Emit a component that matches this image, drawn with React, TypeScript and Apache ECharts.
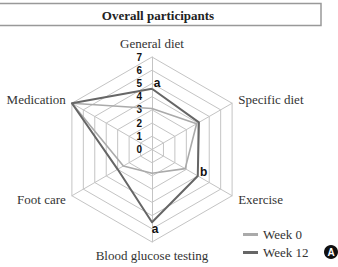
import React, { useEffect, useRef } from "react";
import * as echarts from "echarts";

// Categories in clockwise visual order starting from the top
const categories = ["General diet", "Specific diet", "Exercise", "Blood glucose testing", "Foot care", "Medication"];
const week0 = [3.1, 3.9, 2.9, 1.8, 2.5, 7.0];
const week12 = [4.6, 4.1, 4.0, 5.5, 3.0, 7.0];
const tickLabels = ["0", "1", "2", "3", "4", "5", "6", "7"];
const annotations = ["a", "", "b", "a", "", ""];
const seriesNames = ["Week 0", "Week 12"];
const title = "Overall participants";
const axisMax = 7;

// ECharts radar goes counter-clockwise; reorder to get clockwise layout
const ccw = <T,>(arr: T[]): T[] => [arr[0], ...arr.slice(1).reverse()];

const annoOffsets: Record<number, [number, number]> = {
  0: [5, -6],
  2: [6, -4],
  3: [3, 7],
};

export default function App() {
  const ref = useRef<HTMLDivElement>(null);
  useEffect(() => {
    if (!ref.current) return;
    const chart = echarts.init(ref.current, undefined, { renderer: "svg" });
    const cats = ccw(categories);
    const w0 = ccw(week0);
    const w12 = ccw(week12);
    const annos = ccw(annotations);
    const indicator = cats.map((name, i) => ({
      name,
      min: 0,
      max: axisMax,
      ...(i === 0
        ? {
            axisLabel: {
              show: true,
              fontSize: 10,
              fontWeight: "bold",
              fontFamily: "Liberation Sans, Arial, sans-serif",
              color: "#111",
              margin: 10,
              formatter: (v: number) => tickLabels[Math.round(v)] ?? "",
            },
          }
        : {}),
    }));

    const annoSeries = annos
      .map((letter, dim) => ({ letter, dim }))
      .filter((a) => a.letter)
      .map((a) => {
        const origIdx = categories.indexOf(cats[a.dim]);
        return {
          type: "radar",
          name: "anno" + a.dim,
          silent: true,
          symbol: "circle",
          symbolSize: 0.1,
          lineStyle: { opacity: 0, width: 0 },
          itemStyle: { opacity: 1, color: "transparent" },
          z: 10,
          data: [
            {
              value: w12,
              label: {
                show: true,
                position: "inside",
                offset: annoOffsets[origIdx] || [5, 0],
                fontSize: 12,
                fontWeight: "bold",
                fontFamily: "Liberation Sans, Arial, sans-serif",
                color: "#111",
                formatter: (p: any) => (w12.indexOf(p.value) === a.dim ? a.letter : ""),
              },
            },
          ],
        };
      });

    chart.setOption({
      animation: false,
      backgroundColor: "#fff",
      legend: {
        data: seriesNames,
        orient: "vertical",
        left: 238,
        top: 223,
        itemWidth: 15,
        itemHeight: 3,
        itemGap: 5,
        icon: "rect",
        textStyle: { fontFamily: "Liberation Serif, serif", fontSize: 13, color: "#333" },
      },
      radar: {
        center: [152, 149.5],
        radius: 92.5,
        shape: "polygon",
        splitNumber: 7,
        nameGap: 7,
        axisName: { fontFamily: "Liberation Serif, serif", fontSize: 13, color: "#333" },
        axisLine: { lineStyle: { color: "#c4c4c4", width: 1 } },
        splitLine: { lineStyle: { color: "#c4c4c4", width: 1 } },
        splitArea: { show: false },
        axisLabel: { show: false },
        axisTick: { show: false },
        indicator,
      },
      series: [
        {
          type: "radar",
          name: "Week 0",
          symbol: "none",
          color: "#aaaaaa",
          lineStyle: { color: "#aaaaaa", width: 1.6 },
          data: [{ value: w0, name: "Week 0" }],
        },
        {
          type: "radar",
          name: "Week 12",
          symbol: "none",
          color: "#666666",
          lineStyle: { color: "#666666", width: 2 },
          data: [{ value: w12, name: "Week 12" }],
        },
        ...annoSeries,
      ],
      graphic: [
        {
          type: "rect",
          shape: { x: -2, y: 3.5, width: 323, height: 22 },
          style: { fill: "none", stroke: "#999", lineWidth: 1.5 },
        },
        {
          type: "text",
          x: 158,
          y: 15,
          style: {
            text: title,
            font: "bold 13px 'Liberation Serif', serif",
            fill: "#222",
            align: "center",
            verticalAlign: "middle",
          },
        },
        {
          type: "circle",
          shape: { cx: 331, cy: 252, r: 7 },
          style: { fill: "#111" },
        },
        {
          type: "text",
          x: 331,
          y: 252.5,
          style: {
            text: "A",
            font: "bold 10px 'Liberation Sans', Arial, sans-serif",
            fill: "#fff",
            align: "center",
            verticalAlign: "middle",
          },
        },
      ],
    });
    return () => chart.dispose();
  }, []);
  return (
    <div
      ref={ref}
      style={{ position: "fixed", left: 0, top: 0, width: 338, height: 267 }}
    />
  );
}
